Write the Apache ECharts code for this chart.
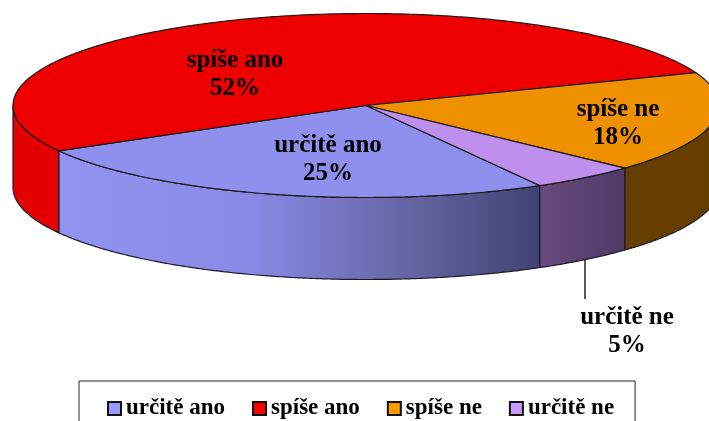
<!DOCTYPE html>
<html>
<head>
<meta charset="utf-8">
<style>
  html, body { margin: 0; padding: 0; background: #fff; }
  #chart { width: 709px; height: 421px; }
</style>
<script src="https://cdn.jsdelivr.net/npm/echarts@6/dist/echarts.min.js"></script>
</head>
<body>
<div id="chart"></div>
<script>
// data
var categories = ['určitě ano', 'spíše ano', 'spíše ne', 'určitě ne'];
var values = [25, 52.4, 17.7, 4.9];
var legendColors = ['#9999ff', '#ff0000', '#ff9900', '#cc99ff'];
var topColors = ['#8f8fee', '#ee0000', '#ee9000', '#bf8fee'];
var wallStops = [
  [[0, '#9292f0'], [0.4, '#8a8ae6'], [0.75, '#62629f'], [1, '#3f4272']],
  [[0, '#e20000'], [1, '#e60000']],
  [[0, '#663f00'], [1, '#643d00']],
  [[0, '#684a80'], [1, '#4f3a64']]
];
var labelPos = [[328, 158], [235, 73], [618, 122], [627, 330]];

// pie geometry
var cx = 366, cy = 105.5, rx = 353, ry = 92, depth = 82;
var startAngle = 60.5;
var total = values.reduce(function (a, b) { return a + b; }, 0);
var fontFamily = '"Liberation Serif", serif';

function pt(deg, dy) {
  var r = deg * Math.PI / 180;
  return [cx + rx * Math.cos(r), cy + ry * Math.sin(r) + (dy || 0)];
}

function arc(from, to, dy) {
  var pts = [];
  var n = Math.max(2, Math.ceil(Math.abs(to - from) * 2));
  for (var i = 0; i <= n; i++) {
    pts.push(pt(from + (to - from) * i / n, dy));
  }
  return pts;
}

function makeWall(from, to, idx) {
  var topArc = arc(from, to, 0);
  var bottomArc = arc(from, to, depth).reverse();
  var left = pt(to)[0], right = pt(from)[0];
  return {
    type: 'polygon',
    shape: { points: topArc.concat(bottomArc) },
    style: {
      fill: new echarts.graphic.LinearGradient(left, 0, right, 0,
        wallStops[idx].map(function (s) { return { offset: s[0], color: s[1] }; }), true),
      stroke: '#1c1c2c',
      lineWidth: 1.2
    }
  };
}

function renderSlice(idx) {
  return function (params, api) {
    var before = 0;
    for (var i = 0; i < idx; i++) before += values[i];
    var from = startAngle + before / total * 360;
    var to = from + api.value(0) / total * 360;
    var children = [];

    if (idx === 3) {
      // leader line for the small slice, starts under the wall
      children.push({
        type: 'line',
        shape: { x1: 585, y1: 255, x2: 585, y2: 299 },
        style: { stroke: '#222', lineWidth: 1.5 }
      });
    }

    // walls only on the front half of the ellipse
    [[0, 180], [360, 540]].forEach(function (w) {
      var a = Math.max(from, w[0]), b = Math.min(to, w[1]);
      if (b > a) children.push(makeWall(a, b, idx));
    });

    children.push({
      type: 'polygon',
      shape: { points: [[cx, cy]].concat(arc(from, to, 0)) },
      style: { fill: topColors[idx], stroke: '#1c1c1c', lineWidth: 1.2 }
    });

    children.push({
      type: 'text',
      z2: 10,
      style: {
        x: labelPos[idx][0],
        y: labelPos[idx][1] + 2,
        text: categories[idx] + '\n' + Math.round(api.value(0)) + '%',
        font: 'bold 25px ' + fontFamily,
        lineHeight: 28,
        fill: '#000',
        align: 'center',
        verticalAlign: 'middle'
      }
    });

    return { type: 'group', children: children };
  };
}

var myChart = echarts.init(document.getElementById('chart'));

var option = {
  animation: false,
  legend: {
    data: categories,
    top: 381,
    left: 79,
    orient: 'horizontal',
    padding: [16, 21, 16, 28],
    itemGap: 27,
    itemWidth: 13,
    itemHeight: 13,
    icon: 'rect',
    backgroundColor: '#fff',
    borderColor: '#222',
    borderWidth: 1,
    textStyle: {
      fontFamily: fontFamily,
      fontWeight: 'bold',
      fontSize: 23,
      color: '#000'
    },
    itemStyle: { borderColor: '#111', borderWidth: 2 }
  },
  series: categories.map(function (name, idx) {
    return {
      type: 'custom',
      name: name,
      coordinateSystem: 'none',
      silent: true,
      itemStyle: { color: legendColors[idx] },
      renderItem: renderSlice(idx),
      data: [[values[idx]]]
    };
  })
};

myChart.setOption(option);
</script>
</body>
</html>
